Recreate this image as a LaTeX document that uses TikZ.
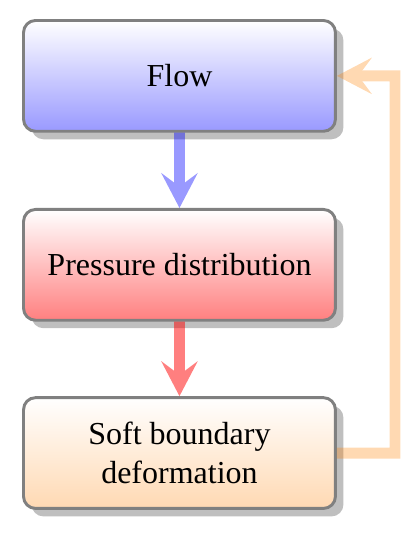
\documentclass[tikz,border=0pt]{standalone}
\usepackage{fontspec}
\setmainfont{Liberation Serif}
\usetikzlibrary{arrows.meta,shadows}
\tikzset{
	stage/.style={draw=black!50,line width=1.1pt,rounded corners=4.5pt,minimum width=4.11cm,minimum height=1.46cm,align=center,font=\fontsize{12}{14.4}\selectfont,drop shadow={shadow xshift=3pt,shadow yshift=-3pt,fill=black!25,opacity=1}},
	link/.style={line width=4.1pt,-{Stealth[length=13pt,width=13.5pt,inset=5pt]}},
}
\begin{document}
\begin{tikzpicture}
		\useasboundingbox (0,0) rectangle (5.482,-7.05);
		\node[stage,top color=white,bottom color=blue!40] (flow) at (2.365,-1.0) {Flow};
		\node[stage,top color=white,bottom color=red!50] (press) at (2.365,-3.49) {Pressure distribution};
		\node[stage,top color=white,bottom color=orange!30] (soft) at (2.365,-5.97) {Soft boundary\\deformation};
		\coordinate (turn) at (5.205,-5.97);
		\begin{scope}[transparency group,opacity=.4]
		\draw[link,blue] (flow)--(press);
		\end{scope}
		\begin{scope}[transparency group,opacity=.5]
		\draw[link,red] (press)--(soft);
		\end{scope}
		\begin{scope}[transparency group,opacity=.3]
		\draw[link,orange] (soft)--(turn)|-(flow.east);
		\end{scope}
		\end{tikzpicture}
\end{document}
